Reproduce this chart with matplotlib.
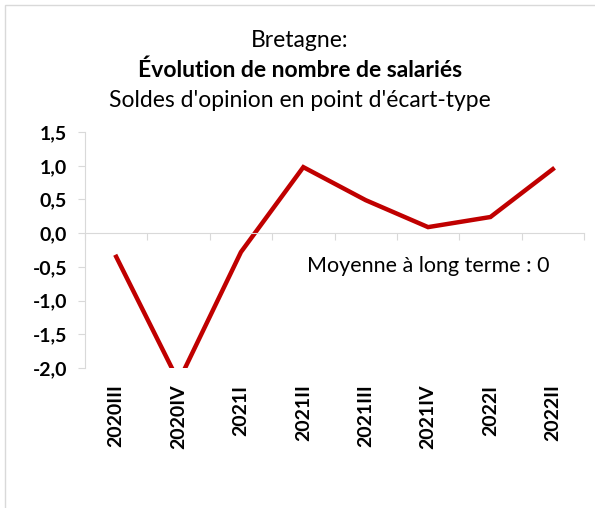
import matplotlib.pyplot as plt
from matplotlib.patches import Rectangle

quarters = ['2020III', '2020IV', '2021I', '2021II', '2021III', '2021IV', '2022I', '2022II']
values = [-0.35, -2.2, -0.28, 0.98, 0.49, 0.09, 0.24, 0.95]
yticks = [1.5, 1.0, 0.5, 0.0, -0.5, -1.0, -1.5, -2.0]

plt.rcParams['font.family'] = ['Lato', 'DejaVu Sans']

fig = plt.figure(figsize=(5.95, 5.08), dpi=100)
ax = fig.add_axes([0.1429, 0.2756, 0.8386, 0.4644])

x = list(range(len(quarters)))
ax.plot(x, values, color='#c00000', linewidth=3.2, solid_joinstyle='miter')

ax.set_xlim(-0.5, len(quarters) - 0.5)
ax.set_ylim(-2.0, 1.5)
ax.set_yticks(yticks)
ax.set_yticklabels([f'{v:.1f}'.replace('.', ',') for v in yticks],
                   fontsize=14, fontweight='bold')

# x axis drawn at zero, labels below the plot
ax.spines['bottom'].set_position(('data', 0))
ax.spines['bottom'].set_color('#d9d9d9')
ax.spines['left'].set_color('#d9d9d9')
ax.spines['top'].set_visible(False)
ax.spines['right'].set_visible(False)
ax.tick_params(axis='y', length=5, color='#d9d9d9', pad=8)
ax.set_xticks([i - 0.5 for i in range(len(quarters) + 1)])
ax.set_xticklabels([])
ax.tick_params(axis='x', length=5, color='#d9d9d9', direction='out')

for i, q in enumerate(quarters):
    ax.text(i, -0.07, q, transform=ax.get_xaxis_transform(), rotation=90,
            ha='center', va='top', fontsize=14, fontweight='bold')

ax.text(5, -0.48, 'Moyenne à long terme : 0', ha='center', va='center', fontsize=15.5)

fig.text(0.504, 0.921, 'Bretagne:', ha='center', va='center', fontsize=16.5)
fig.text(0.504, 0.862, 'Évolution de nombre de salariés', ha='center', va='center',
         fontsize=16.5, fontweight='bold')
fig.text(0.504, 0.803, "Soldes d'opinion en point d'écart-type", ha='center', va='center',
         fontsize=16.5)

fig.patches.append(Rectangle((5 / 595, -0.01), 1.0, 1 - 5 / 508 + 0.01, transform=fig.transFigure,
                             fill=False, edgecolor='#d9d9d9', linewidth=1))

fig.savefig('out.png', dpi=100)
